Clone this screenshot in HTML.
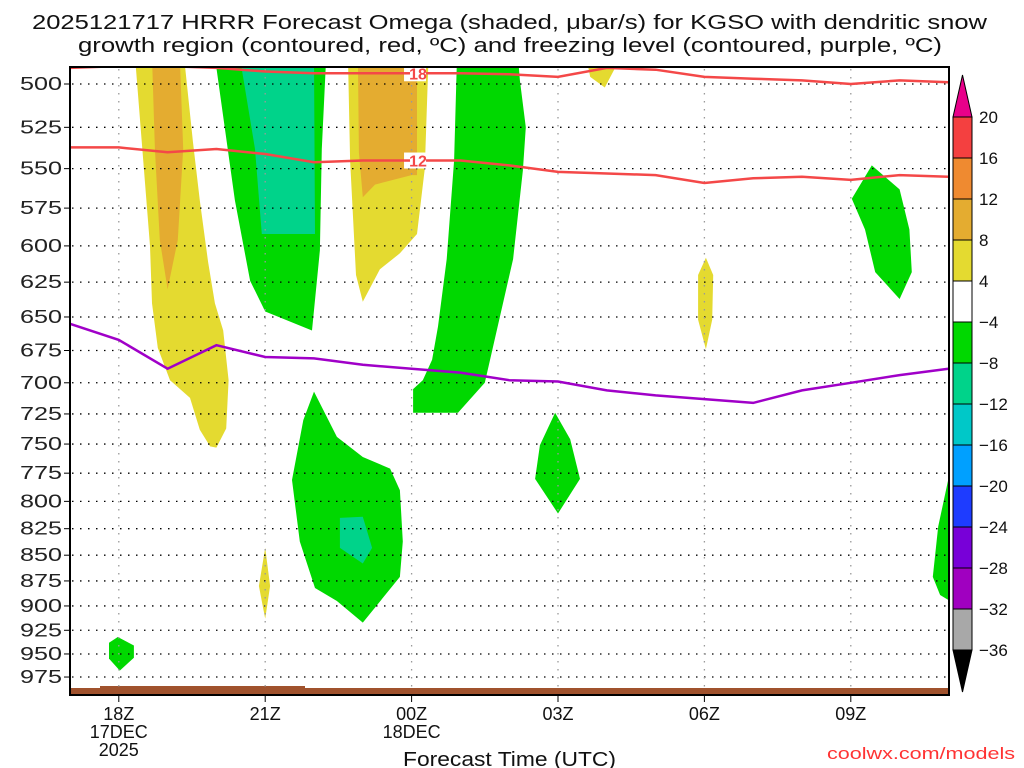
<!DOCTYPE html>
<html><head><meta charset="utf-8"><style>
body{margin:0;background:#fff;}
svg{display:block;font-family:"Liberation Sans",sans-serif;}
</style></head><body>
<svg id="c" width="1024" height="768" xmlns="http://www.w3.org/2000/svg">
<text x="32" y="29" font-size="20" textLength="955" lengthAdjust="spacingAndGlyphs" fill="#111">2025121717 HRRR Forecast Omega (shaded, μbar/s) for KGSO with dendritic snow</text>
<text x="78" y="52" font-size="20" textLength="864" lengthAdjust="spacingAndGlyphs" fill="#111">growth region (contoured, red, ºC) and freezing level (contoured, purple, ºC)</text>
<defs><clipPath id="pc"><rect x="70" y="67" width="879" height="628"/></clipPath></defs>
<g id="plot" clip-path="url(#pc)"></g>
<g id="grid"></g>
<g id="lines" clip-path="url(#pc)"></g>
<rect x="70" y="67" width="879" height="628" fill="none" stroke="#000" stroke-width="2"/>
<g id="axes"></g>
<g id="cbar"></g>
<text x="403" y="766" font-size="20" textLength="213" lengthAdjust="spacingAndGlyphs" fill="#111">Forecast Time (UTC)</text>
<text x="827" y="759" font-size="17" textLength="188" lengthAdjust="spacingAndGlyphs" fill="#f33">coolwx.com/models</text>
</svg>
<script>
const NS="http://www.w3.org/2000/svg";
const pressureTicks=[500,525,550,575,600,625,650,675,700,725,750,775,800,825,850,875,900,925,950,975];
const hourTicks=[1,4,7,10,13,16];
const hourLabels=[["18Z","17DEC","2025"],["21Z"],["00Z","18DEC"],["03Z"],["06Z"],["09Z"]];
const cbarLevels=[20,16,12,8,4,-4,-8,-12,-16,-20,-24,-28,-32,-36];
const cbarColors=["#f44040","#ef8a30","#e4ac30","#e4da30","#ffffff","#00d800","#00d38a","#00c8c8","#00a0ff","#1e3cff","#7800d8","#a000c0","#a8a8a8"];
// contour lines: hours since 17Z -> pressure hPa
const lineHours=[0,1,2,3,4,5,6,7,8,9,10,11,12,13,14,15,16,17,18];
const dgz18=[491,490,490,491,493,494,494,494,494,494.5,496,491,492,496,497,498,500,498,499];
const dgz12=[537,537,540,538,541,546,545,545,545,548,552,553,554,559,556,555,557,554,555];
const frz=[655,667,689,671,680,681,686,689,692,698,699,706,710,713,716,706,700,694,689];
// omega shaded areas: [hour, hPa] polygons
const yellowAreas=[
 [[1.3,485],[1.35,491],[1.64,600],[1.68,640],[1.8,673],[2.05,698],[2.46,712],[2.66,738],[2.87,752],[3.0,753],[3.2,737],[3.25,698],[3.14,660],[2.97,640],[2.83,611],[2.66,570],[2.52,534],[2.36,491],[2.34,485]],
 [[5.7,485],[5.7,491],[5.74,545],[5.86,620],[6.0,639],[6.35,616],[6.76,605],[7.11,592],[7.27,550],[7.34,491],[7.34,485]],
 [[4.0,843],[4.1,880],[4.0,913],[3.87,880]],
 [[13.03,608],[13.18,620],[13.16,652],[13.03,674],[12.87,652],[12.87,620]],
 [[10.6,488],[11.23,488],[10.96,502],[10.66,496]]
];
const orangeAreas=[
 [[1.68,485],[1.74,538],[1.84,596],[2.0,630],[2.21,596],[2.32,538],[2.25,485]],
 [[5.9,485],[5.92,540],[6.0,568],[6.25,560],[7.0,554],[7.11,554],[7.11,485]]
];
const greenAreas=[
 [[2.97,485],[3.38,570],[3.69,624],[4.0,646],[4.96,660],[5.12,603],[5.16,538],[5.25,485]],
 [[7.93,485],[7.87,545],[7.72,609],[7.54,657],[7.42,682],[7.23,698],[7.03,705],[7.03,724],[7.95,724],[8.5,700],[9.08,609],[9.28,551],[9.34,525],[9.22,498],[9.18,485]],
 [[5.0,707],[5.47,744],[6.0,761],[6.56,771],[6.76,790],[6.82,837],[6.76,871],[6.0,917],[5.47,895],[5.02,882],[4.71,837],[4.55,781],[4.78,730]],
 [[0.98,932],[1.31,941],[1.31,954],[1.02,968],[0.8,955],[0.8,938]],
 [[9.94,724],[10.25,746],[10.45,780],[10.0,811],[9.53,780],[9.63,751]],
 [[16.43,548],[17.0,563],[17.2,589],[17.25,618],[17.0,637],[16.5,618],[16.29,589],[16.02,569]],
 [[18.2,760],[18.2,900],[17.83,889],[17.68,871],[17.79,823],[18.0,780]]
];
const tealAreas=[
 [[3.48,485],[3.79,538],[3.93,592],[5.02,592],[5.0,485]],
 [[5.53,815],[6.0,814],[6.19,843],[6.0,858],[5.53,843]]
];
const X0=70,PXH=48.8;
function xs(h){return X0+h*PXH;}
function ys(p){return 84+888*Math.log(p/500);}
function el(t,a,parent){const e=document.createElementNS(NS,t);for(const k in a)e.setAttribute(k,a[k]);parent.appendChild(e);return e;}
const plot=document.getElementById('plot');
function poly(pts,color,name){
 const e=el('polygon',{points:pts.map(q=>xs(q[0]).toFixed(1)+','+ys(q[1]).toFixed(1)).join(' '),fill:color},plot);
 
 
}
yellowAreas.forEach(a=>poly(a,"#e4da30",'omega-yellow-area'));
orangeAreas.forEach(a=>poly(a,"#e4ac30",'omega-orange-area'));
greenAreas.forEach(a=>poly(a,"#00d800",'omega-green-area'));
tealAreas.forEach(a=>poly(a,"#00d38a",'omega-teal-area'));
let g1=el('rect',{x:70,y:688,width:879,height:7,fill:"#a0522d"},plot);


let g2=el('rect',{x:100,y:686,width:205,height:3,fill:"#a0522d"},plot);


const grid=document.getElementById('grid'),axes=document.getElementById('axes');
pressureTicks.forEach(p=>{
 const y=ys(p);
 let l=el('line',{x1:72,x2:948,y1:y,y2:y,stroke:"#000","stroke-width":1.3,"stroke-dasharray":"1.5 6.5"},grid);
 
 
 el('line',{x1:64,x2:70,y1:y,y2:y,stroke:"#000"},axes);
 let t=el('text',{x:20,y:y+6,"font-size":18,textLength:42,lengthAdjust:"spacingAndGlyphs",fill:"#222"},axes);
 t.textContent=p;
 
 
});
hourTicks.forEach((h,i)=>{
 const x=xs(h);
 let l=el('line',{x1:x,x2:x,y1:69,y2:693,stroke:"#999","stroke-width":1.3,"stroke-dasharray":"1.5 6.5"},grid);
 
 
 el('line',{x1:x,x2:x,y1:695,y2:702,stroke:"#000"},axes);
 hourLabels[i].forEach((s,j)=>{
  let t=el('text',{x:x,y:720+j*18,"font-size":18,"text-anchor":"middle",fill:"#111"},axes);
  t.textContent=s;
  
  
 });
});
const lines=document.getElementById('lines');
function pl(vals,color,name){
 const e=el('polyline',{points:lineHours.map((h,i)=>xs(h).toFixed(1)+','+ys(vals[i]).toFixed(1)).join(' '),fill:"none",stroke:color,"stroke-width":2.5},lines);
 
 
}
pl(dgz18,"#f44848",'dgz-minus18-contour');
pl(dgz12,"#f44848",'dgz-minus12-contour');
pl(frz,"#a000c8",'freezing-level-contour');
[["18",dgz18],["12",dgz12]].forEach(([s,v])=>{
 const x=xs(7.05),y=ys((v[6]+v[7])/2);
 el('rect',{x:x-10,y:y-8,width:22,height:16,fill:"#fff"},lines);
 el('line',{x1:x-10,x2:x-4,y1:y,y2:y,stroke:"#f44848","stroke-width":2.5},lines);
 let t=el('text',{x:x+4,y:y+6,"font-size":16,"font-weight":"bold","text-anchor":"middle",fill:"#f44848"},lines);
 t.textContent=s;
 
 
});
const cb=document.getElementById('cbar');
const cTop=117,cStep=(650-117)/13,cx=953,cw=19;
let tu=el('polygon',{points:`${cx},${cTop} ${cx+cw},${cTop} ${cx+cw/2},${cTop-42}`,fill:"#e8008a",stroke:"#000"},cb);


let td=el('polygon',{points:`${cx},650 ${cx+cw},650 ${cx+cw/2},692`,fill:"#000",stroke:"#000"},cb);


cbarColors.forEach((c,i)=>{
 let r=el('rect',{x:cx,y:cTop+i*cStep,width:cw,height:cStep,fill:c,stroke:"#000","stroke-width":1},cb);
 
 
});
cbarLevels.forEach((v,i)=>{
 let t=el('text',{x:979,y:cTop+i*cStep+6,"font-size":17,fill:"#111"},cb);
 t.textContent=v<0?"−"+(-v):v;
 
 
});
</script>
</body></html>
